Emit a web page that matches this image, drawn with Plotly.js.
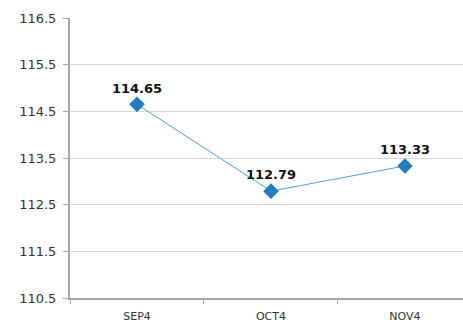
<!DOCTYPE html>
<html>
<head>
<meta charset="utf-8">
<script src="https://cdn.plot.ly/plotly-3.0.1.min.js"></script>
<style>
  html, body { margin: 0; padding: 0; background: #ffffff; }
  #chart { width: 463px; height: 329px; }
</style>
</head>
<body>
<div id="chart"></div>
<script>
// Contract months and settlement prices
const months = ['SEP4', 'OCT4', 'NOV4'];
const prices = [114.65, 112.79, 113.33];
const priceLabels = prices.map(v => v.toFixed(2));

const yTicks = [110.5, 111.5, 112.5, 113.5, 114.5, 115.5, 116.5];

const trace = {
  x: months,
  y: prices,
  type: 'scatter',
  mode: 'lines+markers+text',
  text: priceLabels,
  textposition: 'top center',
  textfont: { family: 'DejaVu Sans, Verdana, sans-serif', size: 13, color: '#111111', weight: 'bold' },
  line: { color: '#4d9fd3', width: 1 },
  marker: { symbol: 'diamond', size: 12, color: '#1f7cc6', line: { width: 0 } },
  cliponaxis: false,
  hoverinfo: 'none'
};

const layout = {
  width: 463,
  height: 329,
  margin: { l: 70, r: 0, t: 18, b: 31 },
  paper_bgcolor: '#ffffff',
  plot_bgcolor: '#ffffff',
  showlegend: false,
  font: { family: 'DejaVu Sans, Verdana, sans-serif', size: 11, color: '#333333' },
  xaxis: {
    type: 'category',
    range: [-0.5, 2.433],
    showgrid: false,
    zeroline: false,
    showline: true,
    linecolor: '#a6a6a6',
    linewidth: 2,
    ticks: 'outside',
    tickson: 'boundaries',
    ticklen: 4,
    tickcolor: '#a6a6a6',
    ticklabelstandoff: 7,
    tickfont: { size: 11, color: '#333333' },
    fixedrange: true
  },
  yaxis: {
    range: [110.5, 116.5],
    tickvals: yTicks,
    ticktext: yTicks.map(v => v.toFixed(1)),
    showgrid: true,
    gridcolor: '#d9d9d9',
    gridwidth: 1,
    zeroline: false,
    showline: true,
    linecolor: '#a6a6a6',
    linewidth: 2,
    ticks: 'outside',
    ticklen: 5,
    tickcolor: '#a6a6a6',
    ticklabelstandoff: 4,
    tickfont: { size: 13, color: '#333333' },
    fixedrange: true
  }
};

Plotly.newPlot('chart', [trace], layout, { staticPlot: true, displayModeBar: false });
</script>
</body>
</html>
